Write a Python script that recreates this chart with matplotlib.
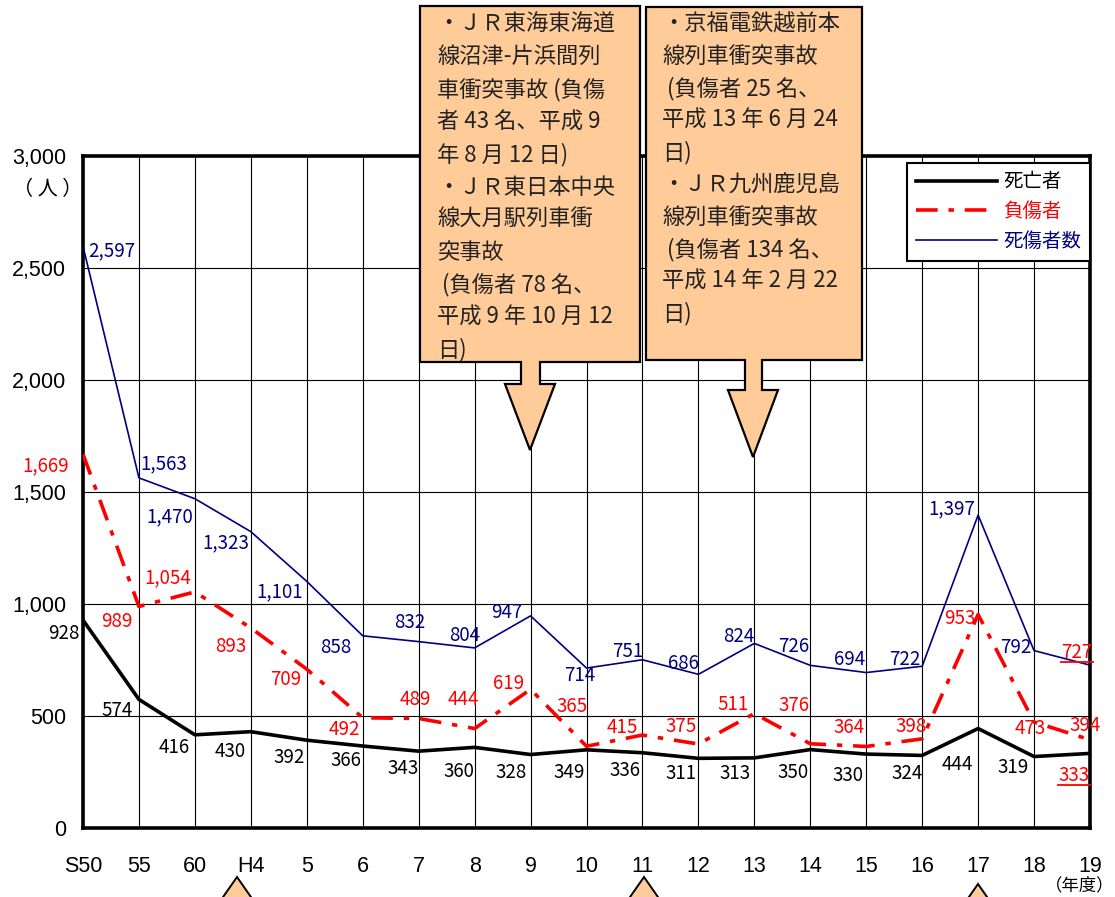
import matplotlib
matplotlib.use("Agg")
import matplotlib.pyplot as plt
from matplotlib.patches import Polygon
from matplotlib.lines import Line2D

plt.rcParams['font.family'] = ['Noto Sans CJK JP', 'DejaVu Sans']

# ---------------- data ----------------
years = ["S50", "55", "60", "H4", "5", "6", "7", "8", "9", "10",
         "11", "12", "13", "14", "15", "16", "17", "18", "19"]
deaths = [928, 574, 416, 430, 392, 366, 343, 360, 328, 349,
          336, 311, 313, 350, 330, 324, 444, 319, 333]
injuries = [1669, 989, 1054, 893, 709, 492, 489, 444, 619, 365,
            415, 375, 511, 376, 364, 398, 953, 473, 394]
totals = [2597, 1563, 1470, 1323, 1101, 858, 832, 804, 947, 714,
          751, 686, 824, 726, 694, 722, 1397, 792, 727]
yticks = [0, 500, 1000, 1500, 2000, 2500, 3000]
legend_labels = ["死亡者", "負傷者", "死傷者数"]

box1_lines = ["・ＪＲ東海東海道", "線沼津-片浜間列", "車衝突事故 (負傷", "者 43 名、平成 9",
              "年 8 月 12 日)", "・ＪＲ東日本中央", "線大月駅列車衝", "突事故",
              " (負傷者 78 名、", "平成 9 年 10 月 12", "日)"]
box2_lines = ["・京福電鉄越前本", "線列車衝突事故", " (負傷者 25 名、", "平成 13 年 6 月 24",
              "日)", "・ＪＲ九州鹿児島", "線列車衝突事故", " (負傷者 134 名、",
              "平成 14 年 2 月 22", "日)"]

# label offsets in pixels (dx, dy with y downward in image)
tot_off = [(29, 5), (25, -14), (-25, 18), (-25, 11), (-27, 10), (-27, 12), (-9, -19),
           (-10, -12), (-24, -3), (-7, 7), (-15, -8), (-15, -11), (-16, -7), (-17, -19),
           (-17, -13), (-17, -7), (-26, -6), (-18, -3), (-13, -13)]
inj_off = [(-37, 12), (-22, 15), (-27, -14), (-20, 19), (-21, 10), (-18, 12), (-3, -19),
           (-11, -29), (-22, -6), (-14, -40), (-20, -8), (-17, -18), (-21, -9), (-16, -38),
           (-17, -19), (-11, -12), (-18, 4), (-4, 6), (-5, -14)]
dth_off = [(-19, 13), (-22, 11), (-21, 13), (-21, 20), (-18, 17), (-17, 14), (-16, 17),
           (-16, 24), (-19, 18), (-17, 23), (-17, 18), (-17, 15), (-19, 16), (-17, 23),
           (-18, 21), (-15, 18), (-21, 36), (-21, 11), (-16, 22)]

W, H = 1115, 897
fig = plt.figure(figsize=(W / 100, H / 100), dpi=100)
ax = fig.add_axes([83 / W, 1 - 828 / H, (1090 - 83) / W, (828 - 156) / H])

x = list(range(len(years)))
NAVY = "#000080"
RED = "#FF0000"

ax.plot(x, deaths, color="black", lw=2.6, zorder=4, label=legend_labels[0])
ax.plot(x, injuries, color=RED, lw=2.6, dashes=(6, 3, 1.5, 3), zorder=4, label=legend_labels[1])
ax.plot(x, totals, color=NAVY, lw=1.2, zorder=4, label=legend_labels[2])

ax.set_xlim(0, len(years) - 1)
ax.set_ylim(0, 3000)
ax.set_xticks(x)
ax.set_xticklabels(years, fontsize=15.5, family=['Liberation Sans', 'DejaVu Sans'])
ax.set_yticks(yticks)
ax.set_yticklabels([f"{v:,}" for v in yticks], fontsize=15.5, family=['Liberation Sans', 'DejaVu Sans'])
ax.tick_params(axis='x', length=0, pad=20)
ax.tick_params(axis='y', length=0, pad=12)
ax.grid(True, color="black", lw=0.8, zorder=1)
for s in ax.spines.values():
    s.set_linewidth(2.6)
    s.set_color("black")

# data labels
underlined = []
def put(vals, offs, color, series):
    for i, (v, (dx, dy)) in enumerate(zip(vals, offs)):
        c = color
        ul = False
        if i == len(vals) - 1 and series in ("tot", "dth"):
            c = RED
            ul = True
        t = ax.annotate(f"{v:,}", xy=(i, v), xytext=(dx, -dy), textcoords="offset pixels",
                        ha="center", va="center", fontsize=13.5, color=c,
                        annotation_clip=False, zorder=6)
        if ul:
            underlined.append(t)

put(totals, tot_off, NAVY, "tot")
put(injuries, inj_off, RED, "inj")
put(deaths, dth_off, "black", "dth")

leg = ax.legend(loc="upper right", bbox_to_anchor=(1.0, 0.99), borderaxespad=0.0,
                fontsize=14, handlelength=4.2, fancybox=False, framealpha=1,
                edgecolor="black", labelcolor=["black", RED, NAVY],
                borderpad=0.45, labelspacing=0.45, handletextpad=0.3)
leg.get_frame().set_linewidth(1.5)
leg.set_zorder(7)

fig.text(48 / W, 1 - 190 / H, "（ 人 ）", ha="center", va="center", fontsize=14.5)
fig.text(1080 / W, 1 - 885 / H, "（年度）", ha="center", va="center", fontsize=12.5)

# overlay for callouts
ov = fig.add_axes([0, 0, 1, 1], zorder=10)
ov.set_xlim(0, W)
ov.set_ylim(H, 0)
ov.axis("off")
PEACH = "#FFCC99"

b1 = [(420, 6), (640, 6), (640, 362), (540, 362), (540, 384), (555, 384), (530, 450),
      (505, 384), (521, 384), (521, 362), (420, 362)]
b2 = [(646, 7), (862, 7), (862, 360), (762, 360), (762, 390), (778, 390), (753, 457),
      (728, 390), (745, 390), (745, 360), (646, 360)]
for pts in (b1, b2):
    ov.add_patch(Polygon(pts, closed=True, facecolor=PEACH, edgecolor="black", lw=1.6))

for i, line in enumerate(box1_lines):
    ov.text(437, 24 + i * 32.6, line, ha="left", va="center", fontsize=16, color="#222222")
for i, line in enumerate(box2_lines):
    ov.text(662, 24 + i * 32.2, line, ha="left", va="center", fontsize=16, color="#222222")

for ax_, ay_ in ((237, 877), (644, 877), (978, 884)):
    ov.add_patch(Polygon([(ax_, ay_), (ax_ + 30, ay_ + 43), (ax_ - 30, ay_ + 43)],
                         closed=True, facecolor=PEACH, edgecolor="black", lw=1.4, clip_on=False))

# underlines
fig.canvas.draw()
r = fig.canvas.get_renderer()
for t in underlined:
    bb = t.get_window_extent(r)
    yb = bb.y0 + 1
    fig.add_artist(Line2D([bb.x0 / W, bb.x1 / W], [yb / H, yb / H], color=RED, lw=1.3,
                          transform=fig.transFigure, zorder=8))

fig.savefig("out.png", dpi=100)
